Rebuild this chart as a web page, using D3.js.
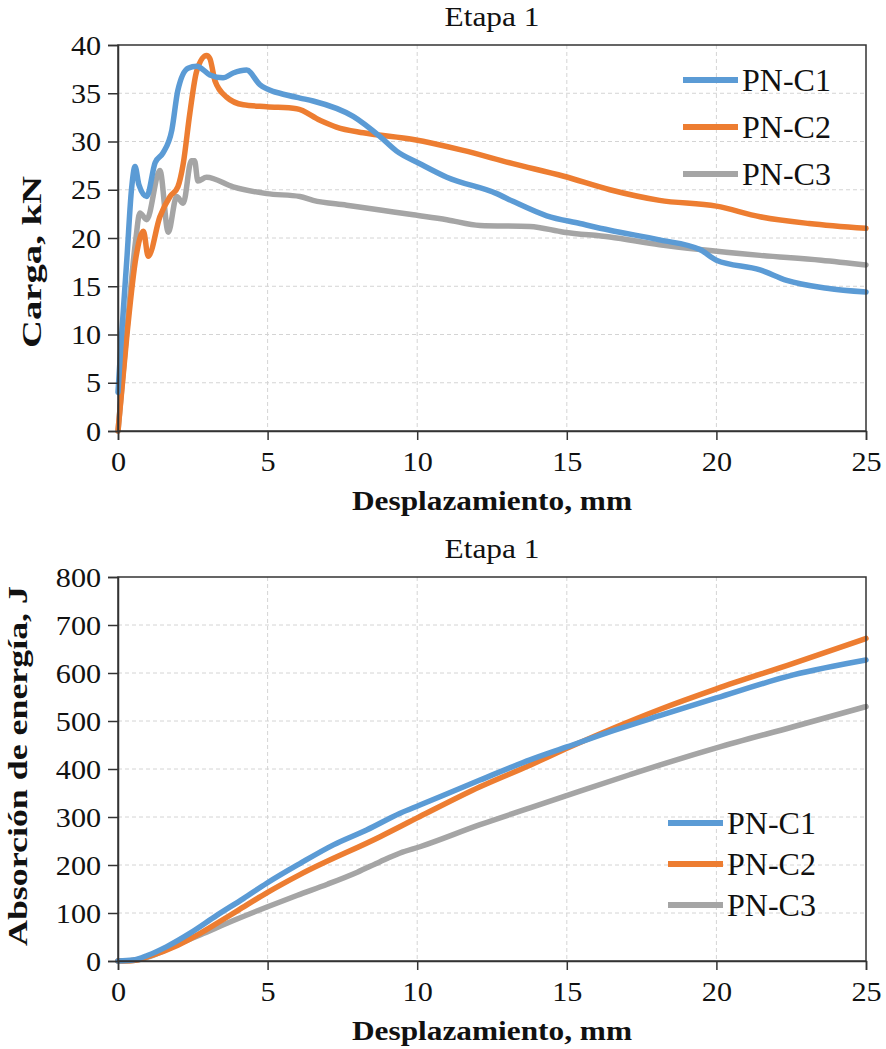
<!DOCTYPE html>
<html>
<head>
<meta charset="utf-8">
<script src="https://cdn.jsdelivr.net/npm/d3@7"></script>
<style>
  body { margin: 0; background: #fff; }
  svg text { font-family: "Liberation Serif", "Times New Roman", serif; fill: #111; }
</style>
</head>
<body>
<script>
var w = 886;
var h = 1049;

var seriesNames = ["PN-C1", "PN-C2", "PN-C3"];
var seriesColors = ["#5b9bd5", "#ed7d31", "#a5a5a5"];

// Etapa 1 - carga (kN) vs desplazamiento (mm)
var c1Disp = [0, 0.1, 0.3, 0.45, 0.57, 0.7, 0.96, 1.24, 1.5, 1.8, 2.0, 2.34, 2.63, 3.07, 3.51, 3.85, 4.3, 4.74, 5.18, 5.41, 6.08, 6.52, 7.86, 8.76, 9.31, 10.09, 10.99, 12.66, 13.2, 14.33, 15.44, 16.44, 18.1, 19.45, 20.0, 21.46, 22.35, 23.7, 25.0];
var c1Load = [4, 9, 18, 25, 27.4, 25.5, 24.3, 27.8, 28.8, 31.2, 35.3, 37.6, 37.8, 36.9, 36.6, 37.1, 37.4, 35.9, 35.2, 35.0, 34.5, 34.2, 32.6, 30.5, 29.0, 27.7, 26.3, 24.6, 23.8, 22.3, 21.5, 20.8, 19.8, 18.8, 17.7, 16.7, 15.6, 14.8, 14.4];

var c2Disp = [0, 0.3, 0.6, 0.85, 1.01, 1.4, 1.74, 2.0, 2.18, 2.4, 2.63, 2.96, 3.07, 3.24, 3.63, 4.19, 4.97, 5.97, 6.75, 7.3, 8.2, 9.87, 11.5, 13.2, 14.9, 16.44, 18.1, 20.0, 21.46, 23.1, 25.0];
var c2Load = [0, 10, 18, 20.7, 18.1, 22.2, 24.3, 25.3, 27.7, 32.9, 37.3, 38.9, 38.6, 36.3, 34.6, 33.8, 33.6, 33.4, 32.2, 31.5, 30.9, 30.2, 29.1, 27.7, 26.4, 25.0, 23.9, 23.3, 22.2, 21.5, 21.0];

var c3Disp = [0, 0.2, 0.4, 0.6, 0.73, 0.96, 1.4, 1.68, 1.96, 2.18, 2.45, 2.56, 2.67, 2.96, 3.85, 4.97, 6.08, 6.52, 7.64, 8.76, 9.87, 10.99, 12.1, 13.77, 14.9, 16.44, 18.1, 19.45, 21.46, 23.5, 25.0];
var c3Load = [0, 7, 14, 20, 22.6, 21.9, 27.0, 20.6, 24.3, 23.6, 28.0, 28.0, 25.9, 26.3, 25.3, 24.6, 24.3, 23.9, 23.4, 22.9, 22.4, 21.9, 21.3, 21.2, 20.6, 20.1, 19.3, 18.8, 18.2, 17.7, 17.2];

// Etapa 1 - absorcion de energia (J) vs desplazamiento (mm)
var e1Disp = [0, 0.5, 1.0, 1.63, 2.41, 3.3, 4.19, 4.97, 6.08, 7.2, 8.31, 9.43, 10.09, 12.1, 13.77, 15.0, 16.55, 18.1, 20.0, 22.57, 25.0];
var e1Val = [0, 2, 12, 30, 58, 95, 130, 162, 203, 242, 273, 308, 325, 377, 419, 446, 480, 511, 548, 596, 627];

var e2Disp = [0, 0.5, 1.0, 2.0, 2.76, 3.0, 4.0, 5.0, 6.08, 8.76, 10.09, 12.1, 13.77, 15.0, 16.55, 18.1, 20.0, 22.57, 25.0];
var e2Val = [0, 1, 9, 33, 58, 67, 105, 143, 180, 259, 301, 363, 408, 443, 485, 524, 567, 620, 672];

var e3Disp = [0, 0.5, 1.0, 2.0, 2.76, 4.0, 5.0, 6.0, 7.0, 8.0, 8.76, 9.43, 10.09, 12.1, 13.77, 15.44, 17.1, 18.1, 20.0, 22.57, 25.0];
var e3Val = [0, 1, 8, 35, 55, 88, 113, 137, 160, 185, 207, 225, 238, 284, 319, 354, 388, 408, 444, 488, 530];

var xTicks = [0, 5, 10, 15, 20, 25];
var loadTicks = [0, 5, 10, 15, 20, 25, 30, 35, 40];
var energyTicks = [0, 100, 200, 300, 400, 500, 600, 700, 800];

var svg = d3.select("body")
            .append("svg")
            .attr("width", w)
            .attr("height", h);

function zip(xs, ys) {
  return xs.map((x, i) => [x, ys[i]]);
}

function drawChart(opt) {
  var x = d3.scaleLinear().domain([0, 25]).range([118, 866]);
  var y = d3.scaleLinear().domain(opt.yDomain).range([opt.bottom, opt.top]);
  var g = svg.append("g");

  // dashed grid
  g.selectAll(".vgrid")
    .data(xTicks.slice(1, -1))
    .enter().append("line")
    .attr("x1", d => x(d)).attr("x2", d => x(d))
    .attr("y1", opt.top).attr("y2", opt.bottom)
    .attr("stroke", "#d4d4d4").attr("stroke-width", 1)
    .attr("stroke-dasharray", "4,3");
  g.selectAll(".hgrid")
    .data(opt.yTicks.slice(1, -1))
    .enter().append("line")
    .attr("x1", 118).attr("x2", 866)
    .attr("y1", d => y(d)).attr("y2", d => y(d))
    .attr("stroke", "#d4d4d4").attr("stroke-width", 1)
    .attr("stroke-dasharray", "4,3");

  // series (C3 first so C1 ends on top)
  var line = d3.line().x(d => x(d[0])).y(d => y(d[1])).curve(d3.curveMonotoneX);
  opt.series.slice().reverse().forEach((s, i) => {
    var k = opt.series.length - 1 - i;
    g.append("path")
      .datum(s)
      .attr("d", line)
      .attr("fill", "none")
      .attr("stroke", seriesColors[k])
      .attr("stroke-width", 5.5)
      .attr("stroke-linejoin", "round")
      .attr("stroke-linecap", "round");
  });

  // frame
  g.append("rect")
    .attr("x", 118).attr("y", opt.top)
    .attr("width", 866 - 118).attr("height", opt.bottom - opt.top)
    .attr("fill", "none").attr("stroke", "#333").attr("stroke-width", 1.5);

  // axes
  var xAxis = g.append("g")
    .attr("transform", "translate(0," + opt.bottom + ")")
    .call(d3.axisBottom(x).tickValues(xTicks).tickSizeOuter(0).tickSize(9).tickPadding(9));
  var yAxis = g.append("g")
    .attr("transform", "translate(118,0)")
    .call(d3.axisLeft(y).tickValues(opt.yTicks).tickSizeOuter(0).tickSize(10).tickPadding(5));
  [xAxis, yAxis].forEach(a => {
    a.attr("font-family", null).attr("font-size", null);
    a.select(".domain").attr("stroke", "#333").attr("stroke-width", 1.5);
    a.selectAll(".tick line").attr("stroke", "#333").attr("stroke-width", 1.5);
    a.selectAll("text")
      .style("font-family", "'Liberation Serif', serif")
      .style("font-size", "27px")
      .attr("fill", "#111");
  });
  xAxis.selectAll("text").attr("dy", "0.8em")
    .attr("transform", "scale(1.12,1)");
  yAxis.selectAll("text").attr("dy", "0.34em")
    .attr("transform", "scale(1.12,1)");

  // title
  g.append("text")
    .attr("x", 492).attr("y", opt.top - 19)
    .attr("text-anchor", "middle")
    .attr("font-size", 28)
    .attr("textLength", 95).attr("lengthAdjust", "spacingAndGlyphs")
    .text("Etapa 1");

  // axis titles
  g.append("text")
    .attr("x", 492).attr("y", opt.bottom + 79)
    .attr("text-anchor", "middle")
    .attr("font-size", 28).attr("font-weight", "bold")
    .attr("textLength", 280).attr("lengthAdjust", "spacingAndGlyphs")
    .text("Desplazamiento, mm");
  g.append("text")
    .attr("transform", "translate(" + opt.yTitleX + "," + opt.yTitleY + ") rotate(-90)")
    .attr("text-anchor", "middle")
    .attr("font-size", 28).attr("font-weight", "bold")
    .attr("textLength", opt.yTitleLen).attr("lengthAdjust", "spacingAndGlyphs")
    .text(opt.yTitle);

  // legend
  var lg = g.append("g").selectAll("g")
    .data(seriesNames)
    .enter().append("g")
    .attr("transform", (d, i) => "translate(" + opt.legX + "," + (opt.legY + i * opt.legGap) + ")");
  lg.append("line")
    .attr("x1", 0).attr("x2", 55)
    .attr("stroke", (d, i) => seriesColors[i])
    .attr("stroke-width", 6);
  lg.append("text")
    .attr("x", 59).attr("dy", "0.35em")
    .attr("font-size", 32)
    .text(d => d);
}

drawChart({
  top: 45, bottom: 431,
  yDomain: [0, 40], yTicks: loadTicks,
  yTitle: "Carga, kN", yTitleX: 41, yTitleY: 262, yTitleLen: 172,
  series: [zip(c1Disp, c1Load), zip(c2Disp, c2Load), zip(c3Disp, c3Load)],
  legX: 683, legY: 80, legGap: 47
});

drawChart({
  top: 577, bottom: 961,
  yDomain: [0, 800], yTicks: energyTicks,
  yTitle: "Absorción de energía, J", yTitleX: 27, yTitleY: 766, yTitleLen: 360,
  series: [zip(e1Disp, e1Val), zip(e2Disp, e2Val), zip(e3Disp, e3Val)],
  legX: 668, legY: 823, legGap: 41
});
</script>
</body>
</html>
